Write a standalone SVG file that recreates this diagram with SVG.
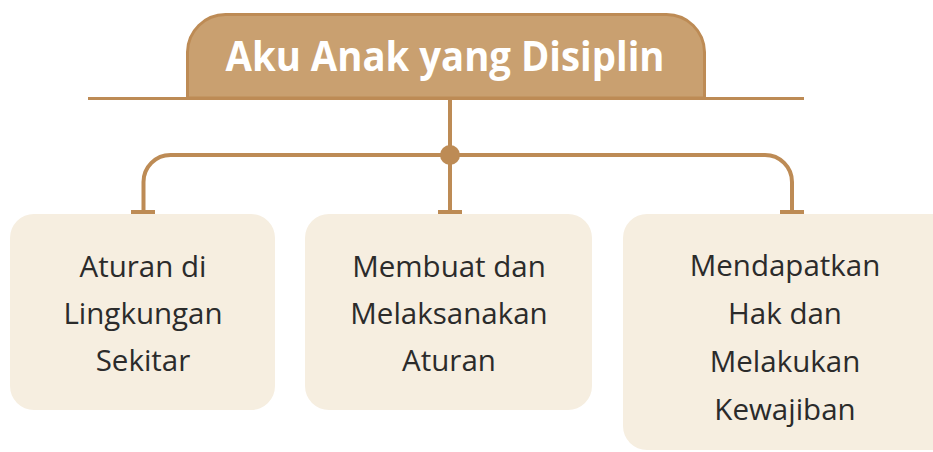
<svg xmlns="http://www.w3.org/2000/svg" width="933" height="452" viewBox="0 0 933 452">
<style>
.conn{fill:none;stroke:#bd8b55;stroke-width:4}
.box{fill:#f6eee0}
.t{font-family:"Open Sans","Noto Sans","DejaVu Sans",sans-serif;font-size:29.5px;fill:#2b2b2b;text-anchor:middle}
.title{font-family:"Open Sans","Noto Sans",sans-serif;font-weight:bold;font-size:42px;fill:#ffffff;text-anchor:middle}
</style>
<rect width="933" height="452" fill="#ffffff"/>
<g id="title">
<path d="M187.5,98 V52 A38,38 0 0 1 225.5,14.5 H666.5 A38,38 0 0 1 704.5,52 V98 Z" fill="#c9a070" stroke="#bd8b55" stroke-width="3"/>
<text class="title" x="445" y="71" textLength="439" lengthAdjust="spacingAndGlyphs">Aku Anak yang Disiplin</text>
</g>
<g id="connectors">
<line x1="88" y1="98.5" x2="804" y2="98.5" stroke="#bd8b55" stroke-width="3"/>
<path class="conn" d="M450,100 V213"/>
<path class="conn" d="M143.5,213 V182 A27,27 0 0 1 170.5,155 H765 A27,27 0 0 1 792,182 V213"/>
<circle cx="450" cy="155" r="10" fill="#bd8b55"/>
<g fill="#bd8b55">
<rect x="131" y="210" width="24" height="5"/>
<rect x="438" y="210" width="24" height="5"/>
<rect x="780" y="210" width="24" height="5"/>
</g>
</g>
<g id="node1">
<rect class="box" x="10" y="214" width="265" height="196" rx="24"/>
<text class="t" x="143" y="277">Aturan di</text>
<text class="t" x="143" y="324">Lingkungan</text>
<text class="t" x="143" y="371">Sekitar</text>
</g>
<g id="node2">
<rect class="box" x="305" y="214" width="287" height="196" rx="24"/>
<text class="t" x="449" y="277">Membuat dan</text>
<text class="t" x="449" y="324">Melaksanakan</text>
<text class="t" x="449" y="371">Aturan</text>
</g>
<g id="node3">
<rect class="box" x="623" y="214" width="340" height="236" rx="24"/>
<text class="t" x="785" y="276">Mendapatkan</text>
<text class="t" x="785" y="324">Hak dan</text>
<text class="t" x="785" y="372">Melakukan</text>
<text class="t" x="785" y="420">Kewajiban</text>
</g>
</svg>
